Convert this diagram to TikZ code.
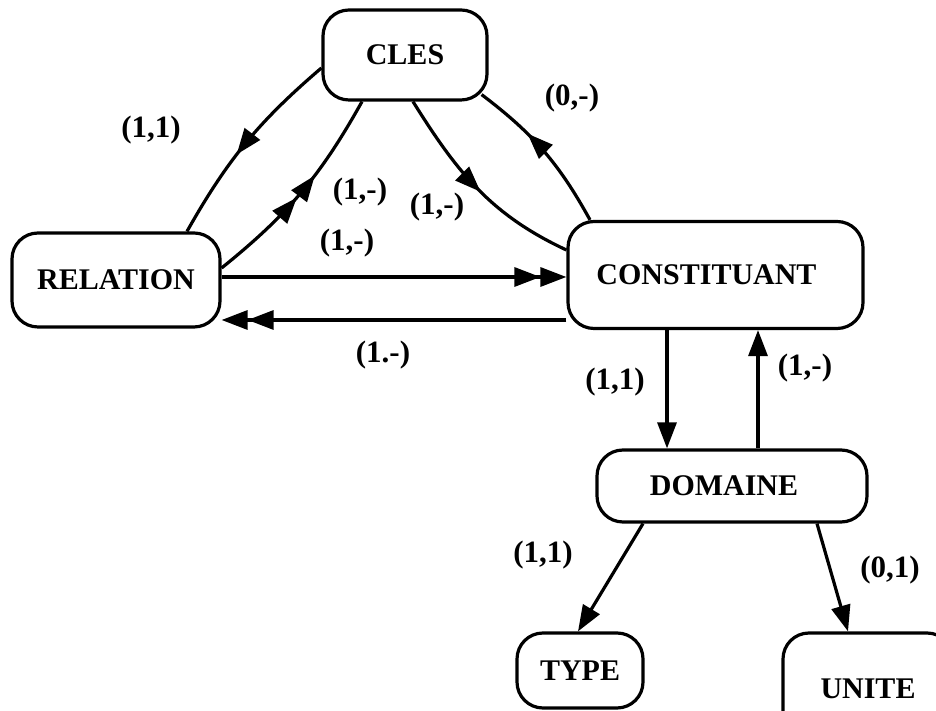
\documentclass[tikz,border=0pt]{standalone}
\usepackage{fontspec}
\setmainfont{Liberation Serif}
\usetikzlibrary{arrows.meta,decorations.markings,calc}
\begin{document}
\begin{tikzpicture}[x=1pt,y=1pt,
  box/.style={draw, line width=3.2pt, rounded corners=26pt, inner sep=0pt,
    font=\fontsize{30}{34}\selectfont\bfseries},
  lab/.style={font=\fontsize{31}{36}\selectfont\bfseries, inner sep=0pt},
  conn/.style={line width=3.2pt},
  endarrow/.style={conn, -{Triangle[length=26pt,width=19pt]}},
  dblarrow/.style={conn, -{Triangle[length=26pt,width=19pt]Triangle[length=26pt,width=19pt]}},
  midarrow/.style={conn, postaction={decorate},
    decoration={markings, mark=at position #1 with {\arrow{Triangle[length=26pt,width=19pt]}}}},
  midarrowtwo/.style={conn, postaction={decorate},
    decoration={markings, mark=at position 0.47 with {\arrow{Triangle[length=26pt,width=19pt]}},
      mark=at position 0.60 with {\arrow{Triangle[length=26pt,width=19pt]}}}}]
\useasboundingbox (0,0) rectangle (936,711);
\clip (0,0) rectangle (936,711);
\fill[white] (0,0) rectangle (936,711);

\node[box, minimum width=164pt, minimum height=90pt] (cles) at (405,656) {CLES};
\node[box, minimum width=208pt, minimum height=94pt] (rel) at (116,431) {RELATION};
\node[box, minimum width=295pt, minimum height=107pt] (cons) at (715.5,436) {CONSTITUANT\hspace*{18pt}};
\node[box, minimum width=270pt, minimum height=72pt] (dom) at (732,225) {DOMAINE\hspace*{16pt}};
\node[box, minimum width=126pt, minimum height=75pt] (type) at (580,40.5) {TYPE};
\node[box, minimum width=170pt, minimum height=112pt] (unite) at (868,22) {UNITE};

% curved connectors round CLES
\draw[midarrow=0.57] ([yshift=-13pt]cles.west) to[bend right=10] ([xshift=71pt]rel.north);
\draw[midarrowtwo] ([yshift=12pt]rel.east) to[bend right=11] ([xshift=-43pt]cles.south);
\draw[midarrow=0.52] ([xshift=8pt]cles.south) to[out=-58,in=155] ([yshift=25pt]cons.west);
\draw[midarrow=0.64] ([xshift=-125.5pt]cons.north) to[bend right=12] ([shift={(-7pt,7pt)}]cles.south east);

% horizontal connectors
\draw[dblarrow] ([yshift=3pt]rel.east) -- ([yshift=3pt]rel.east -| cons.west);
\draw[dblarrow] ([yshift=-45pt]cons.west) -- ([yshift=-45pt]cons.west -| rel.east);

% vertical connectors
\draw[endarrow] ([xshift=-48.5pt]cons.south) -- ([xshift=-65pt]dom.north);
\draw[endarrow] ([xshift=26pt]dom.north) -- ([xshift=42.5pt]cons.south);

% DOMAINE to TYPE and UNITE
\draw[endarrow] ([xshift=-89pt]dom.south) -- ([xshift=-2pt]type.north);
\draw[endarrow] ([xshift=85pt]dom.south) -- ([xshift=-20pt]unite.north);

% labels
\node[lab] (l1) at (151,581) {(1,1)};
\node[lab] (l2) at (572,613) {(0,-)};
\node[lab] (l3) at (360,519) {(1,-)};
\node[lab] (l4) at (437,504) {(1,-)};
\node[lab] (l5) at (347,468) {(1,-)};
\node[lab] (l6) at (383,356) {(1.-)};
\node[lab] (l7) at (615,329) {(1,1)};
\node[lab] (l8) at (805,343) {(1,-)};
\node[lab] (l9) at (543,156) {(1,1)};
\node[lab] (l10) at (890,141) {(0,1)};
\end{tikzpicture}
\end{document}
